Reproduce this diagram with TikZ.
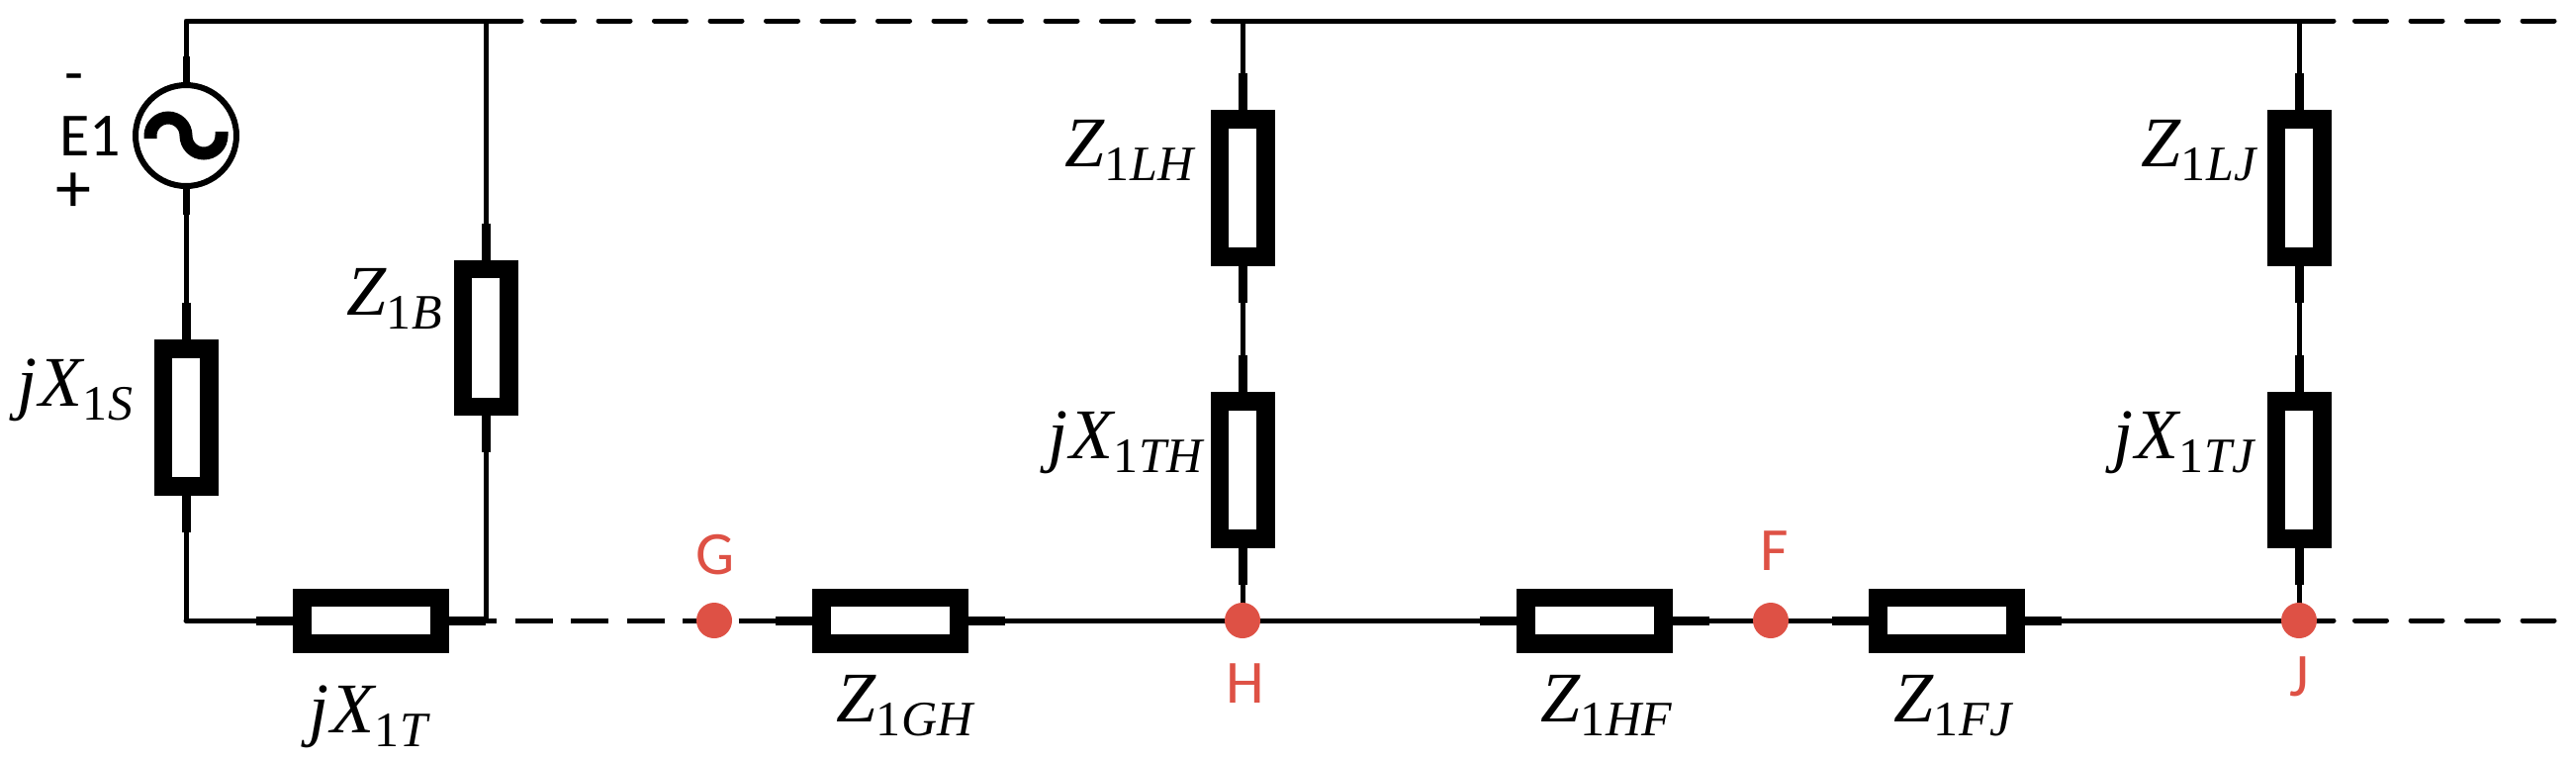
\documentclass[tikz,border=0pt]{standalone}
\usepackage{fontspec}
\setmainfont{Liberation Serif}
\newfontfamily\capfont{Carlito}
\definecolor{pointred}{HTML}{DE5145}
\newcommand{\mainsize}{\fontsize{36pt}{36pt}\selectfont}
\newcommand{\subsize}{\fontsize{25pt}{25pt}\selectfont}
\newcommand{\lab}[3]{\mainsize\itshape #1\raisebox{-7pt}{\subsize\upshape #2\kern0.5pt\itshape #3}}
\tikzset{
  x=0.5pt,y=-0.5pt,
  wire/.style={line width=2.5pt,black},
  stubline/.style={line width=4.5pt,black},
  resv/.style={draw=black,fill=white,line width=9.25pt,minimum width=23.25pt,minimum height=69.5pt,inner sep=0pt,rectangle},
  resh/.style={draw=black,fill=white,line width=9.25pt,minimum width=69.5pt,minimum height=23.25pt,inner sep=0pt,rectangle},
  roundash/.style={wire,line cap=round,dash pattern=on 16pt off 12.25pt},
  buttdash/.style={wire,dash pattern=on 19pt off 9.25pt},
  point/.style={circle,fill=pointred,inner sep=0pt,minimum size=18pt},
  pointlab/.style={inner sep=0pt,anchor=base,text=pointred,font=\capfont\fontsize{31pt}{31pt}\selectfont},
  blacklab/.style={inner sep=0pt,anchor=base,font=\capfont\fontsize{31pt}{31pt}\selectfont},
  zlab/.style={inner sep=0pt,anchor=base west},
  source/.style={circle,draw=black,fill=white,line width=3pt,minimum size=51pt,inner sep=0pt},
}
\begin{document}
\begin{tikzpicture}
\useasboundingbox (0,0) rectangle (2604,768);
% junctions
\coordinate (tl) at (188,21);
\coordinate (tb) at (491,21);
\coordinate (th) at (1256,21);
\coordinate (tj) at (2324,21);
\coordinate (bl) at (188,627);
\coordinate (bb) at (491,627);
\coordinate (topa) at (527,21);
\coordinate (topb) at (548.5,21);
\coordinate (topc) at (1226,21);
\coordinate (topd) at (2359,21);
\coordinate (tope) at (2380.5,21);
\coordinate (topf) at (2583,21);
\coordinate (bota) at (464,627);
\coordinate (botb) at (785,627);
\coordinate (botc) at (2359,627);
\coordinate (botd) at (2380.5,627);
\coordinate (bote) at (2583,627);
% wires
\draw[wire,line cap=round] (topd) -- (topc);
\draw[wire,line cap=round,line join=round] (bl) -- (tl) -- (topa);
\draw[roundash] (topb) -- (topc);
\draw[roundash] (tope) -- (topf);
\draw[wire] (tb) -- (bb);
\draw[wire] (th) -- (1256,627);
\draw[wire] (tj) -- (2324,627);
\draw[wire,line cap=round] (bl) -- (bb);
\draw[buttdash] (bota) -- (botb);
\draw[wire,line cap=round] (botb) -- (botc);
\draw[roundash] (botd) -- (bote);
% resistors
\node[resv] (rs) at (188,422) {};
\node[resv] (rb) at (491,341.5) {};
\node[resv] (rlh) at (1256,190) {};
\node[resv] (rth) at (1256,475) {};
\node[resv] (rlj) at (2324,190) {};
\node[resv] (rtj) at (2324,475) {};
\node[resh] (rt) at (375,627) {};
\node[resh] (rgh) at (900,627) {};
\node[resh] (rhf) at (1612,627) {};
\node[resh] (rfj) at (1968,627) {};
% stubs
\foreach \n in {rs,rb,rlh,rth,rlj,rtj}{
  \draw[stubline] (\n.north) -- ++(0,-37);
  \draw[stubline] (\n.south) -- ++(0,37);
}
\foreach \n in {rt,rgh,rhf,rfj}{
  \draw[stubline] (\n.west) -- ++(-37,0);
  \draw[stubline] (\n.east) -- ++(37,0);
}
% source
\node[source] (src) at (188,137) {};
\draw[stubline,line width=3.5pt] (src.north) -- ++(0,-26);
\draw[stubline,line width=3.5pt] (src.south) -- ++(0,26);
\draw[line width=6.5pt,black] (152,140) -- (152,137) arc[start angle=180,end angle=0,radius=9pt]
  arc[start angle=180,end angle=360,radius=9pt] -- (224,133);
\node[blacklab,anchor=base west] (e1) at (60,157) {E1};
\node[blacklab] (minus) at (74.5,94) {-};
\node[blacklab,font=\capfont\fontsize{36pt}{36pt}\selectfont] (plus) at (74.5,214) {+};
% points
\node[point] (g) at (722,627) {};
\node[point] (h) at (1256,627) {};
\node[point] (f) at (1790,627) {};
\node[point] (j) at (2324,627) {};
\node[pointlab] (gl) at (723,580) {G};
\node[pointlab] (hl) at (1259,710) {H};
\node[pointlab] (fl) at (1794,576) {F};
\node[pointlab] (jl) at (2324,703) {J};
% labels
\node[zlab] (l1) at (17,410) {\lab{j\kern1pt X}{1}{S}};
\node[zlab] (l2) at (350,318) {\lab{Z}{1}{B}};
\node[zlab] (l3) at (312,740) {\lab{j\kern1pt X}{1}{T}};
\node[zlab] (l4) at (1076,168) {\lab{Z}{1}{LH}};
\node[zlab] (l5) at (1059,463) {\lab{j\kern1pt X}{1}{TH}};
\node[zlab] (l6) at (845,729) {\lab{Z}{1}{GH}};
\node[zlab] (l7) at (1557,729) {\lab{Z}{1}{HF}};
\node[zlab] (l8) at (1914,729) {\lab{Z}{1}{FJ}};
\node[zlab] (l9) at (2164,168) {\lab{Z}{1}{LJ}};
\node[zlab] (l10) at (2136,463) {\lab{j\kern1pt X}{1}{TJ}};
\end{tikzpicture}
\end{document}
